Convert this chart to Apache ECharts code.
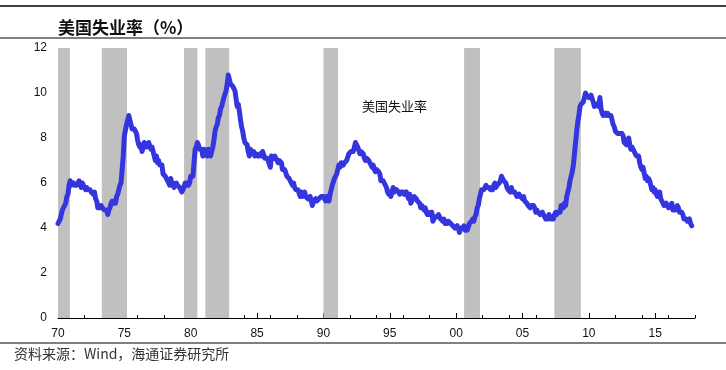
<!DOCTYPE html>
<html>
<head>
<meta charset="utf-8">
<script src="https://cdn.jsdelivr.net/npm/echarts@6/dist/echarts.min.js"></script>
<style>
html,body{margin:0;padding:0;background:#fff;}
#c{width:726px;height:370px;}
</style>
</head>
<body>
<div id="c"></div>
<script>
// Monthly US unemployment rate (%), starting Jan 1970
const startYear = 1970;
const rate1970s = [
4.2,4.3,4.4,4.6,4.8,4.9,5.0,5.1,5.4,5.5,5.9,6.1,
5.9,5.9,6.0,5.9,5.9,5.9,6.0,6.1,6.0,5.8,6.0,6.0,
5.8,5.7,5.8,5.7,5.7,5.7,5.6,5.6,5.5,5.6,5.3,5.2,
4.9,5.0,4.9,5.0,4.9,4.9,4.8,4.8,4.8,4.6,4.8,4.9,
5.1,5.2,5.1,5.1,5.1,5.4,5.5,5.5,5.9,6.0,6.6,7.2,
8.1,8.1,8.6,8.8,9.0,8.8,8.6,8.4,8.4,8.4,8.3,8.2,
7.9,7.7,7.6,7.7,7.4,7.6,7.8,7.8,7.6,7.7,7.8,7.8,
7.5,7.6,7.4,7.2,7.0,7.2,6.9,7.0,6.8,6.8,6.8,6.4,
6.4,6.3,6.3,6.1,6.0,5.9,6.2,5.9,6.0,5.8,5.9,6.0,
5.9,5.9,5.8,5.8,5.6,5.7,5.7,6.0,5.9,6.0,5.9,6.0];
const rate1980s = [
6.3,6.3,6.3,6.9,7.5,7.6,7.8,7.7,7.5,7.5,7.5,7.2,
7.5,7.4,7.4,7.2,7.5,7.5,7.2,7.4,7.6,7.9,8.3,8.5,
8.6,8.9,9.0,9.3,9.4,9.6,9.8,9.8,10.1,10.4,10.8,10.8,
10.4,10.4,10.3,10.2,10.1,10.1,9.4,9.5,9.2,8.8,8.5,8.3,
8.0,7.8,7.8,7.7,7.4,7.2,7.5,7.5,7.3,7.4,7.2,7.3,
7.3,7.2,7.2,7.3,7.2,7.4,7.4,7.1,7.1,7.1,7.0,7.0,
6.7,7.2,7.2,7.1,7.2,7.2,7.0,6.9,7.0,7.0,6.9,6.6,
6.6,6.6,6.6,6.3,6.3,6.2,6.1,6.0,5.9,6.0,5.8,5.7,
5.7,5.7,5.7,5.4,5.6,5.4,5.4,5.6,5.4,5.4,5.3,5.3,
5.4,5.2,5.0,5.2,5.2,5.3,5.2,5.2,5.3,5.3,5.4,5.4];
const rate1990s = [
5.4,5.3,5.2,5.4,5.4,5.2,5.5,5.7,5.9,5.9,6.2,6.3,
6.4,6.6,6.8,6.7,6.9,6.9,6.8,6.9,6.9,7.0,7.0,7.3,
7.3,7.4,7.4,7.4,7.6,7.8,7.7,7.6,7.6,7.3,7.4,7.4,
7.3,7.1,7.0,7.1,7.1,7.0,6.9,6.8,6.7,6.8,6.6,6.5,
6.6,6.6,6.5,6.4,6.1,6.1,6.1,6.0,5.9,5.8,5.6,5.5,
5.6,5.4,5.4,5.8,5.6,5.6,5.7,5.7,5.6,5.5,5.6,5.6,
5.6,5.5,5.5,5.6,5.6,5.3,5.5,5.1,5.2,5.2,5.4,5.4,
5.3,5.2,5.2,5.1,4.9,5.0,4.9,4.8,4.9,4.7,4.6,4.7,
4.6,4.6,4.7,4.3,4.4,4.5,4.5,4.5,4.6,4.5,4.4,4.4,
4.3,4.4,4.2,4.3,4.2,4.3,4.3,4.2,4.2,4.1,4.1,4.0];
const rate2000s = [
4.0,4.1,4.0,3.8,4.0,4.0,4.0,4.1,3.9,3.9,3.9,3.9,
4.2,4.2,4.3,4.4,4.3,4.5,4.6,4.9,5.0,5.3,5.5,5.7,
5.7,5.7,5.7,5.9,5.8,5.8,5.8,5.7,5.7,5.7,5.9,6.0,
5.8,5.9,5.9,6.0,6.1,6.3,6.2,6.1,6.1,6.0,5.8,5.7,
5.7,5.6,5.8,5.6,5.6,5.6,5.5,5.4,5.4,5.5,5.4,5.4,
5.3,5.4,5.2,5.2,5.1,5.0,5.0,4.9,5.0,5.0,5.0,4.9,
4.7,4.8,4.7,4.7,4.6,4.6,4.7,4.7,4.5,4.4,4.5,4.4,
4.6,4.5,4.4,4.5,4.4,4.6,4.7,4.6,4.7,4.7,4.7,5.0,
5.0,4.9,5.1,5.0,5.4,5.6,5.8,6.1,6.1,6.5,6.8,7.3,
7.8,8.3,8.7,9.0,9.4,9.5,9.5,9.6,9.8,10.0,9.9,9.9];
const rate2010s = [
9.8,9.8,9.9,9.9,9.6,9.4,9.4,9.5,9.5,9.4,9.8,9.3,
9.1,9.0,9.0,9.1,9.0,9.1,9.0,9.0,9.0,8.8,8.6,8.5,
8.3,8.3,8.2,8.2,8.2,8.2,8.2,8.1,7.8,7.8,7.7,7.9,
8.0,7.7,7.5,7.6,7.5,7.5,7.3,7.2,7.2,7.2,6.9,6.7,
6.6,6.7,6.7,6.2,6.3,6.1,6.2,6.1,5.9,5.7,5.8,5.6,
5.7,5.5,5.4,5.4,5.6,5.3,5.2,5.1,5.0,5.0,5.1,5.0,
4.9,4.9,5.0,5.1,4.8,4.9,4.8,4.9,5.0,4.9,4.7,4.7,
4.7,4.6,4.4,4.4,4.4,4.3,4.3,4.4,4.2,4.1];

// Recession shading (decimal years, as drawn)
const recessionStart = [1970.0, 1973.3, 1979.5, 1981.1, 1990.0, 2000.6, 2007.4];
const recessionEnd   = [1970.9, 1975.2, 1980.5, 1982.9, 1991.1, 2001.8, 2009.4];

const seriesName = '美国失业率';
const titleText = '美国失业率（%）';
const sourceText = '资料来源：Wind，海通证券研究所';

const allRates = [].concat(rate1970s, rate1980s, rate1990s, rate2000s, rate2010s);
const lineData = allRates.map((v, i) => [startYear + i / 12, v]);
const areas = recessionStart.map((s, i) => [{xAxis: s}, {xAxis: recessionEnd[i]}]);

const chart = echarts.init(document.getElementById('c'), null, {renderer: 'canvas'});
const FONT = '"Liberation Sans", Arial, sans-serif';
chart.setOption({
  animation: false,
  backgroundColor: '#ffffff',
  title: {
    text: titleText, left: 53, top: 14,
    textStyle: {fontFamily: '"Noto Sans CJK SC", sans-serif', fontSize: 17, fontWeight: 'bold', color: '#111'}
  },
  legend: {
    data: [{name: seriesName, icon: 'none'}],
    left: 352, top: 95, itemWidth: 0, itemHeight: 0, itemGap: 0,
    textStyle: {fontFamily: '"Noto Sans CJK SC", sans-serif', fontSize: 13, color: '#111'}
  },
  grid: {left: 58, right: 31, top: 48, bottom: 52, containLabel: false},
  xAxis: [{
    type: 'value', min: 1970, max: 2018, interval: 5, position: 'bottom',
    axisLine: {show: true, lineStyle: {color: '#000', width: 1}},
    axisTick: {show: true, inside: true, length: 5, lineStyle: {color: '#000'}},
    axisLabel: {
      show: true, margin: 10, color: '#111', fontFamily: FONT, fontSize: 12,
      showMaxLabel: false,
      formatter: v => String(Math.round(v) % 100).padStart(2, '0')
    },
    splitLine: {show: false}
  }, {
    type: 'value', min: 1970, max: 2018, interval: 2, position: 'bottom',
    axisLine: {show: false},
    axisTick: {show: true, inside: true, length: 3, lineStyle: {color: '#000'}},
    axisLabel: {show: false},
    splitLine: {show: false}
  }],
  yAxis: {
    type: 'value', min: 0, max: 12, interval: 2,
    axisLine: {show: false}, axisTick: {show: false},
    axisLabel: {margin: 11, color: '#111', fontFamily: FONT, fontSize: 12},
    splitLine: {show: false}
  },
  series: [{
    name: seriesName, type: 'line', data: lineData, xAxisIndex: 0,
    showSymbol: false, symbol: 'none',
    lineStyle: {color: '#3535e0', width: 5, cap: 'round', join: 'round'},
    itemStyle: {color: '#3535e0'},
    z: 3,
    markArea: {
      silent: true,
      itemStyle: {color: '#c0c0c0'},
      data: areas
    }
  }],
  graphic: [
    {type: 'line', shape: {x1: 0, y1: 6, x2: 726, y2: 6}, style: {stroke: '#000', lineWidth: 1.5}},
    {type: 'line', shape: {x1: 0, y1: 38, x2: 726, y2: 38}, style: {stroke: '#000', lineWidth: 1}},
    {type: 'line', shape: {x1: 0, y1: 343, x2: 726, y2: 343}, style: {stroke: '#000', lineWidth: 1}},
    {type: 'text', left: 14, top: 347, style: {text: sourceText, fill: '#333', font: '14px "Noto Sans CJK SC", sans-serif'}}
  ]
});
</script>
</body>
</html>
